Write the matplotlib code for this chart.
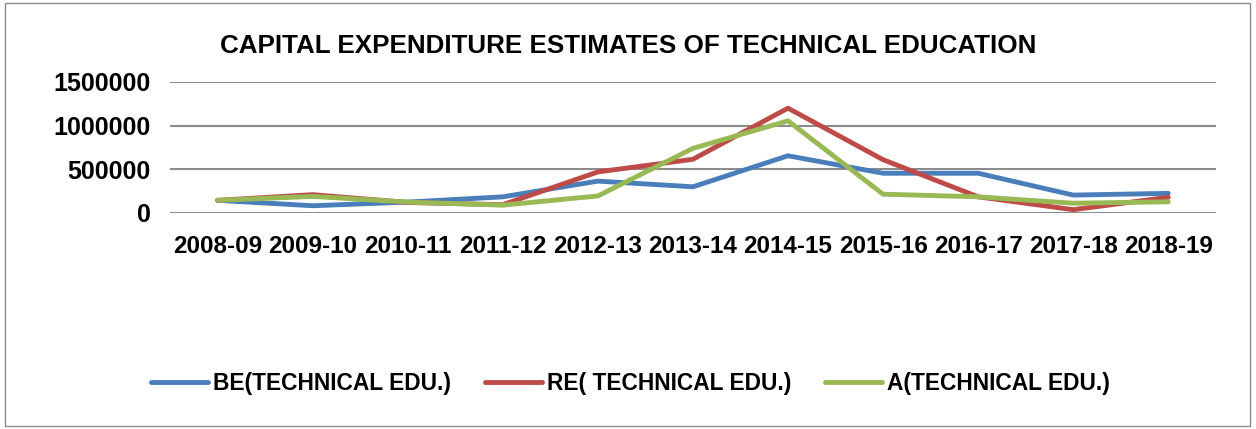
import matplotlib.pyplot as plt
from matplotlib.patches import Rectangle

years = ['2008-09', '2009-10', '2010-11', '2011-12', '2012-13', '2013-14',
         '2014-15', '2015-16', '2016-17', '2017-18', '2018-19']
be = [145000, 83000, 125000, 185000, 365000, 300000, 655000, 455000, 455000, 205000, 225000]
re = [145000, 210000, 120000, 95000, 470000, 615000, 1200000, 610000, 185000, 38000, 180000]
act = [145000, 190000, 125000, 90000, 195000, 740000, 1055000, 215000, 185000, 112000, 128000]

plt.rcParams['font.family'] = ['Liberation Sans', 'DejaVu Sans']

fig = plt.figure(figsize=(12.56, 4.29), dpi=100)
ax = fig.add_axes([0.1354, 0.5035, 0.8326, 0.3055])

x = range(len(years))
ax.plot(x, be, color='#4A7EBB', lw=3.5, label='BE(TECHNICAL EDU.)', solid_capstyle='round')
ax.plot(x, re, color='#BE4B48', lw=3.5, label='RE( TECHNICAL EDU.)', solid_capstyle='round')
ax.plot(x, act, color='#98B954', lw=3.5, label='A(TECHNICAL EDU.)', solid_capstyle='round')

ax.set_xlim(-0.5, len(years) - 0.5)
ax.set_ylim(0, 1500000)
ax.set_yticks([0, 500000, 1000000, 1500000])
ax.set_yticklabels(['0', '500000', '1000000', '1500000'], fontsize=18, fontweight='bold')
ax.set_xticks(list(x))
ax.set_xticklabels(years, fontsize=17.5, fontweight='bold')
ax.tick_params(length=0)
ax.tick_params(axis='x', pad=16)
ax.tick_params(axis='y', pad=14)
ax.grid(axis='y', color='#8C8C8C', lw=1.5)
ax.set_axisbelow(True)
for s in ax.spines.values():
    s.set_visible(False)

fig.text(0.5004, 0.892, 'CAPITAL EXPENDITURE ESTIMATES OF TECHNICAL EDUCATION',
         ha='center', va='center', fontsize=18.7, fontweight='bold')

fig.legend(loc='center', bbox_to_anchor=(0.502, 0.105), ncol=3, frameon=False,
           prop={'size': 16.4, 'weight': 'bold'}, handlelength=2.5, columnspacing=1.5,
           handletextpad=0.2)

fig.patches.append(Rectangle((0.004, 0.008), 0.991, 0.985, transform=fig.transFigure,
                             fill=False, edgecolor='#8C8C8C', lw=1))

fig.savefig('out.png', dpi=100)
